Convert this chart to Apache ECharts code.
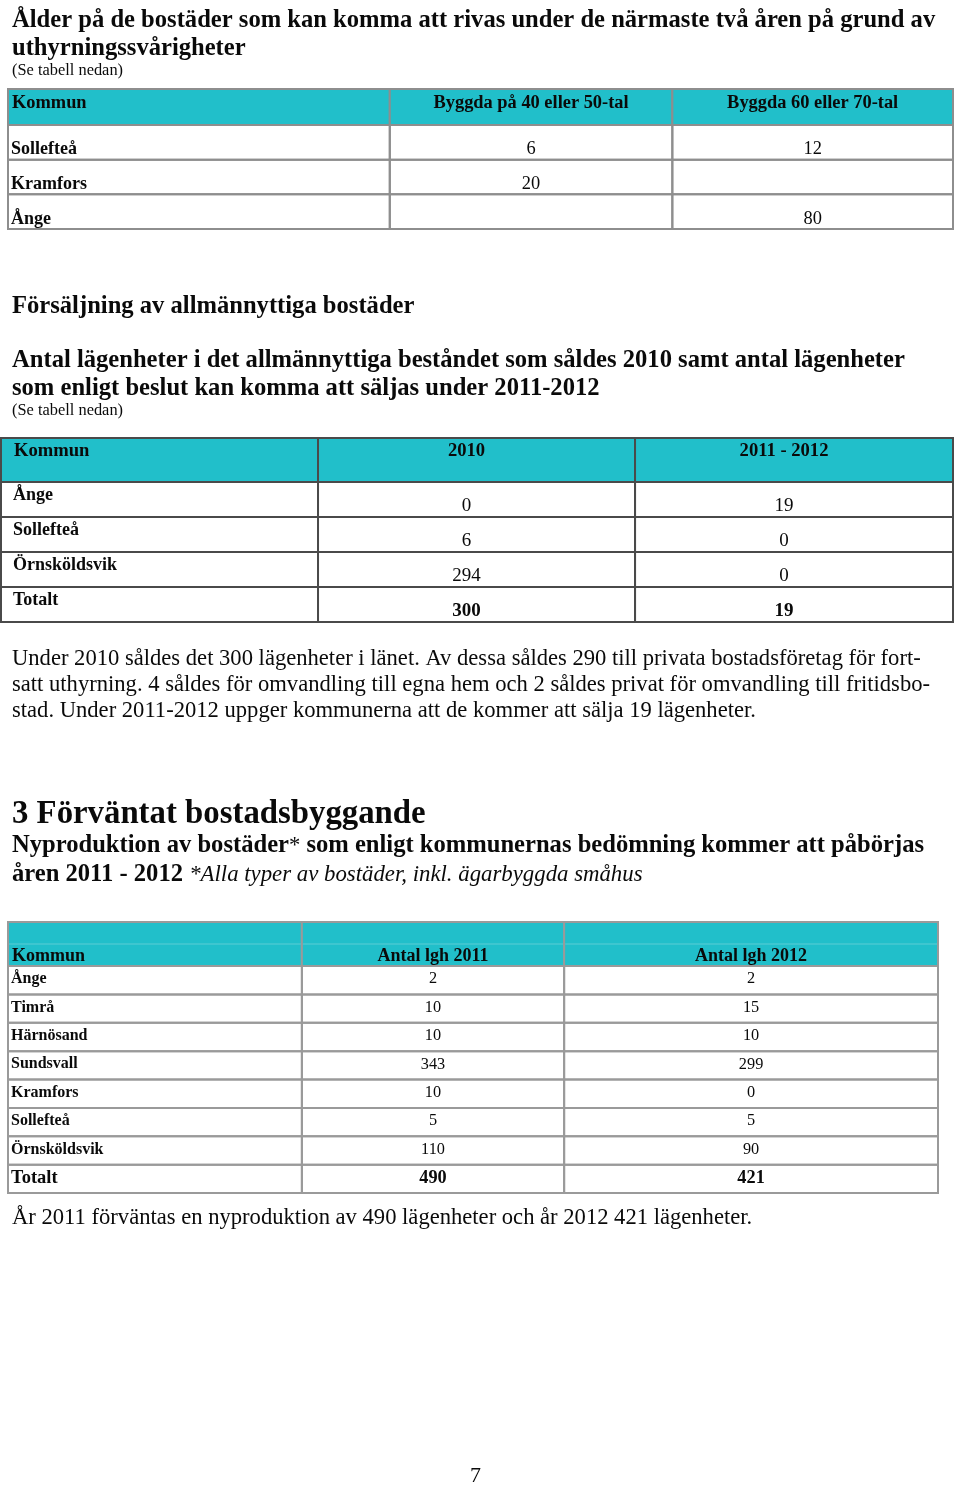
<!DOCTYPE html>
<html>
<head>
<meta charset="utf-8">
<script src="https://cdn.jsdelivr.net/npm/echarts@6/dist/echarts.min.js"></script>
<style>
html, body { margin: 0; padding: 0; background: #fff; }
#main { width: 960px; height: 1486px; }
</style>
</head>
<body>
<div id="main"></div>
<script>
// Tabell 1: rivning
var rivHeader = ['Kommun', 'Byggda på 40 eller 50-tal', 'Byggda 60 eller 70-tal'];
var rivKommun = ['Sollefteå', 'Kramfors', 'Ånge'];
var riv4050 = [6, 20, null];
var riv6070 = [12, null, 80];

// Tabell 2: försäljning
var saljHeader = ['Kommun', '2010', '2011 - 2012'];
var saljKommun = ['Ånge', 'Sollefteå', 'Örnsköldsvik', 'Totalt'];
var salj2010 = [0, 6, 294, 300];
var salj20112012 = [19, 0, 0, 19];

// Tabell 3: nyproduktion
var nyHeader = ['Kommun', 'Antal lgh 2011', 'Antal lgh 2012'];
var nyKommun = ['Ånge', 'Timrå', 'Härnösand', 'Sundsvall', 'Kramfors', 'Sollefteå', 'Örnsköldsvik', 'Totalt'];
var ny2011 = [2, 10, 10, 343, 10, 5, 110, 490];
var ny2012 = [2, 15, 10, 299, 0, 5, 90, 421];

var FONT = '"Liberation Serif", "Times New Roman", serif';
var TEAL = '#21bfca';
var INK = '#0a0a0a';

var tables = [
    {
        header: rivHeader, rows: rivKommun, cols: [riv4050, riv6070],
        left: 8, width: 945, headTop: 89, headH: 36, bodyH: 104, edges: [0, 40.4, 70.3, 100],
        border: '#8e8e8e', headFont: 18.4, nameFont: 18, valFont: 18.4,
        headPos: 'middle', namePos: 'bottom', valPos: 'bottom', valShift: 0, pad: 3, boldTotal: false, midLine: false
    },
    {
        header: saljHeader, rows: saljKommun, cols: [salj2010, salj20112012],
        left: 1, width: 952, headTop: 438, headH: 44, bodyH: 140, edges: [0, 33.3, 66.6, 100],
        border: '#4a4a4a', headFont: 18.6, nameFont: 18, valFont: 19,
        headPos: 'top', namePos: 'top', valPos: 'bottom', valShift: -10, pad: 12, boldTotal: true, midLine: false
    },
    {
        header: nyHeader, rows: nyKommun, cols: [ny2011, ny2012],
        left: 8, width: 930, headTop: 922, headH: 44, bodyH: 227, edges: [0, 31.6, 59.8, 100],
        border: '#9a9a9a', headFont: 18, nameFont: 16, valFont: 16.3,
        headPos: 'bottom', namePos: 'middle', valPos: 'middle', valShift: 0, pad: 3, boldTotal: true, midLine: true
    }
];

function textAt(x, y, str, size, weight, align, vpos) {
    return {
        type: 'text',
        style: {
            text: str == null ? '' : String(str),
            x: x, y: y,
            fontFamily: FONT, fontSize: size, fontWeight: weight,
            fill: INK,
            align: align, verticalAlign: vpos,
            textAlign: align, textVerticalAlign: vpos
        }
    };
}

function textY(pos, top, bottom) {
    if (pos === 'top') return top + 4;
    if (pos === 'bottom') return bottom - 1;
    return (top + bottom) / 2 - 1;
}

function headerRenderer(t) {
    return function (params, api) {
        var c = api.coord([0, 0]);
        var h = api.size([0, 1])[1];
        var top = c[1] - h / 2, bottom = c[1] + h / 2;
        var kids = [];
        for (var k = 0; k < 3; k++) {
            var x0 = api.coord([t.edges[k], 0])[0];
            var x1 = api.coord([t.edges[k + 1], 0])[0];
            kids.push({ type: 'rect', shape: { x: x0, y: top, width: x1 - x0, height: h },
                style: { fill: TEAL, stroke: t.border, lineWidth: 2 } });
            if (t.midLine) {
                kids.push({ type: 'line', shape: { x1: x0 + 1, y1: (top + bottom) / 2, x2: x1 - 1, y2: (top + bottom) / 2 },
                    style: { stroke: '#5ccdd5', lineWidth: 1 } });
            }
            var ty = textY(t.headPos, top, bottom);
            if (t.headPos === 'middle') ty -= 3;
            if (k === 0) {
                kids.push(textAt(x0 + t.pad + 1, ty, t.header[k], t.headFont, 'bold', 'left', t.headPos));
            } else {
                kids.push(textAt((x0 + x1) / 2 + t.valShift, ty, t.header[k], t.headFont, 'bold', 'center', t.headPos));
            }
        }
        return { type: 'group', children: kids };
    };
}

function bodyRenderer(t) {
    return function (params, api) {
        var row = api.value(1);
        var i = params.dataIndex;
        var c = api.coord([0, row]);
        var h = api.size([0, 1])[1];
        var top = c[1] - h / 2, bottom = c[1] + h / 2;
        var last = t.boldTotal && i === t.rows.length - 1;
        var kids = [];
        for (var k = 0; k < 3; k++) {
            var x0 = api.coord([t.edges[k], row])[0];
            var x1 = api.coord([t.edges[k + 1], row])[0];
            kids.push({ type: 'rect', shape: { x: x0, y: top, width: x1 - x0, height: h },
                style: { fill: 'none', stroke: t.border, lineWidth: 2 } });
            if (k === 0) {
                var nf = last && t.nameFont < 18 ? 18.5 : t.nameFont;
                kids.push(textAt(x0 + t.pad, textY(t.namePos, top, bottom), t.rows[i], nf, 'bold', 'left', t.namePos));
            } else {
                var vf = last && t.valFont < 18 ? 18.3 : t.valFont;
                kids.push(textAt((x0 + x1) / 2 + t.valShift, textY(t.valPos, top, bottom), t.cols[k - 1][i], vf,
                    last ? 'bold' : 'normal', 'center', t.valPos));
            }
        }
        return { type: 'group', children: kids };
    };
}

var grids = [], xAxes = [], yAxes = [], series = [];
var hidden = { axisLine: { show: false }, axisTick: { show: false }, axisLabel: { show: false }, splitLine: { show: false } };

tables.forEach(function (t, n) {
    var hg = 2 * n, bg = 2 * n + 1;
    grids.push({ left: t.left, width: t.width, top: t.headTop, height: t.headH });
    grids.push({ left: t.left, width: t.width, top: t.headTop + t.headH, height: t.bodyH });
    [hg, bg].forEach(function (g) {
        xAxes.push(Object.assign({ type: 'value', gridIndex: g, min: 0, max: 100 }, hidden));
    });
    yAxes.push(Object.assign({ type: 'category', gridIndex: hg, data: ['header'], inverse: true }, hidden));
    yAxes.push(Object.assign({ type: 'category', gridIndex: bg, data: t.rows, inverse: true }, hidden));
    series.push({
        type: 'custom', xAxisIndex: hg, yAxisIndex: hg, silent: true,
        renderItem: headerRenderer(t), data: [[0, 0]]
    });
    series.push({
        type: 'custom', xAxisIndex: bg, yAxisIndex: bg, silent: true,
        renderItem: bodyRenderer(t),
        data: t.rows.map(function (r, i) { return [0, i]; })
    });
});

function para(y, str, size, weight, style, x) {
    return {
        type: 'text', x: x == null ? 12 : x, y: y, silent: true,
        style: {
            text: str, fontFamily: FONT, fontSize: size, fontWeight: weight || 'normal',
            fontStyle: style || 'normal', fill: INK,
            align: 'left', verticalAlign: 'middle', textAlign: 'left', textVerticalAlign: 'middle'
        }
    };
}

var richLine = function (y, str, rich) {
    return {
        type: 'text', x: 12, y: y, silent: true,
        style: {
            text: str, rich: rich, fontFamily: FONT, fontSize: 24.6, fill: INK,
            verticalAlign: 'middle', textVerticalAlign: 'middle'
        }
    };
};

var rich = {
    b: { fontFamily: FONT, fontSize: 24.6, fontWeight: 'bold', fill: INK, color: INK },
    r: { fontFamily: FONT, fontSize: 22.6, fontWeight: 'normal', fill: INK, color: INK },
    i: { fontFamily: FONT, fontSize: 22.8, fontWeight: 'normal', fontStyle: 'italic', fill: INK, color: INK }
};

var graphics = [
    para(21, 'Ålder på de bostäder som kan komma att rivas under de närmaste två åren på grund av', 24.6, 'bold'),
    para(49, 'uthyrningssvårigheter', 24.6, 'bold'),
    para(71, '(Se tabell nedan)', 16.4),
    para(307, 'Försäljning av allmännyttiga bostäder', 24.6, 'bold'),
    para(361, 'Antal lägenheter i det allmännyttiga beståndet som såldes 2010 samt antal lägenheter', 24.6, 'bold'),
    para(389, 'som enligt beslut kan komma att säljas under 2011-2012', 24.6, 'bold'),
    para(411, '(Se tabell nedan)', 16.4),
    para(659, 'Under 2010 såldes det 300 lägenheter i länet. Av dessa såldes 290 till privata bostadsföretag för fort-', 22.6),
    para(685, 'satt uthyrning. 4 såldes för omvandling till egna hem och 2 såldes privat för omvandling till fritidsbo-', 22.6),
    para(711, 'stad. Under 2011-2012 uppger kommunerna att de kommer att sälja 19 lägenheter.', 22.6),
    para(815, '3 Förväntat bostadsbyggande', 32.8, 'bold'),
    richLine(846, '{b|Nyproduktion av bostäder}{r|*}{b| som enligt kommunernas bedömning kommer att påbörjas}', rich),
    richLine(875, '{b|åren 2011 - 2012 }{i|*Alla typer av bostäder, inkl. ägarbyggda småhus}', rich),
    para(1218, 'År 2011 förväntas en nyproduktion av 490 lägenheter och år 2012 421 lägenheter.', 22.6),
    para(1476, '7', 22, 'normal', 'normal', 470)
];

var chart = echarts.init(document.getElementById('main'), null, { renderer: 'canvas' });
chart.setOption({
    animation: false,
    backgroundColor: '#ffffff',
    grid: grids,
    xAxis: xAxes,
    yAxis: yAxes,
    series: series,
    graphic: { elements: graphics }
});
</script>
</body>
</html>
